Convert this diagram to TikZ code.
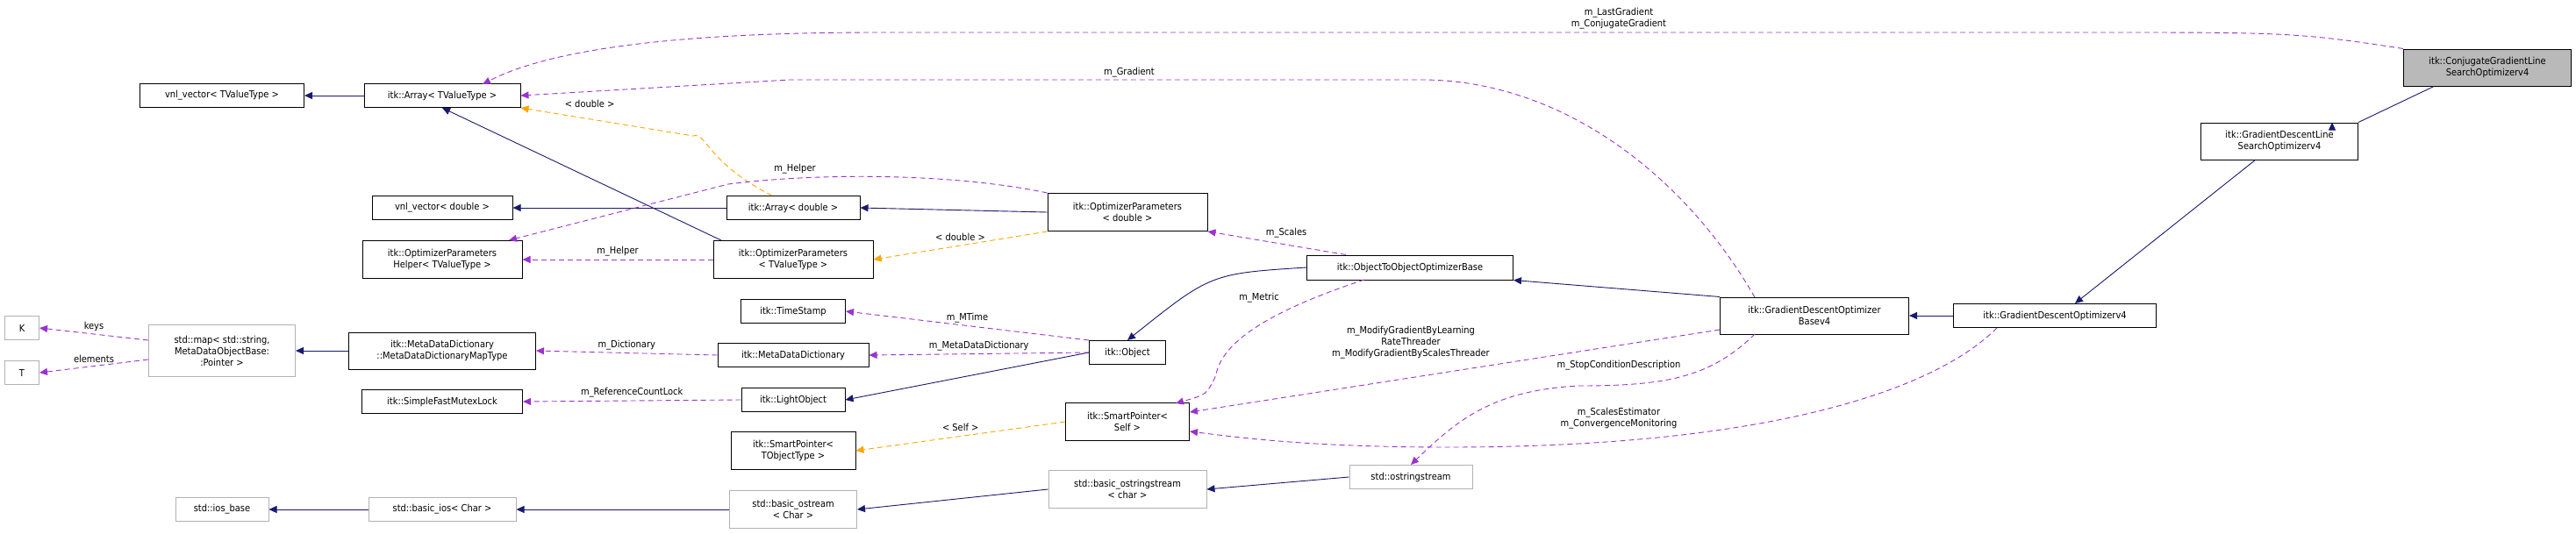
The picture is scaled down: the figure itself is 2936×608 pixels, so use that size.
\documentclass[tikz,border=0pt]{standalone}
\usepackage{fontspec}
\setmainfont{DejaVu Sans Condensed}
\usetikzlibrary{arrows.meta}
\definecolor{inh}{HTML}{191970}
\definecolor{tpl}{HTML}{FFA500}
\definecolor{use}{HTML}{9A32CD}
\tikzset{
  cls/.style={draw=black, fill=white, line width=1pt, inner sep=0pt, align=center,
    font=\fontsize{11}{13}\selectfont},
  ext/.style={cls, draw=gray!60},
  lbl/.style={font=\fontsize{11}{13}\selectfont, align=center, inner sep=1pt},
  isa/.style={draw=inh, line width=0.9pt, -{Triangle[length=9pt,width=8pt]}},
  tmpl/.style={draw=tpl, line width=0.9pt, dashed, dash pattern=on 6pt off 4pt, -{Triangle[length=9pt,width=8pt]}},
  usage/.style={draw=use, line width=0.9pt, dash pattern=on 6pt off 4pt, -{Triangle[length=9pt,width=8pt]}},
}
\newcommand{\cbox}[6][cls]{\node[#1, minimum width=#4, minimum height=#5] (#2) at #3 {#6};}
\begin{document}
\begin{tikzpicture}[x=1pt,y=-1pt]
\useasboundingbox (0,0) rectangle (2936,608);

% classes
\cbox{cg}{(2835,77)}{191pt}{42pt}{itk::ConjugateGradientLine\\SearchOptimizerv4}
\node[cls, fill=gray!55, minimum width=191pt, minimum height=42pt] at (cg) {itk::ConjugateGradientLine\\SearchOptimizerv4};
\cbox{gdls}{(2598,161)}{179pt}{42pt}{itk::GradientDescentLine\\SearchOptimizerv4}
\cbox{gd}{(2342,360)}{231pt}{27pt}{itk::GradientDescentOptimizerv4}
\cbox{gdb}{(2068,360)}{215pt}{42pt}{itk::GradientDescentOptimizer\\Basev4}
\cbox{oto}{(1607,305)}{235pt}{28pt}{itk::ObjectToObjectOptimizerBase}
\cbox{opd}{(1285,242)}{182pt}{43pt}{itk::OptimizerParameters\\< double >}
\cbox{obj}{(1285,402)}{87pt}{27pt}{itk::Object}
\cbox{sps}{(1285,481)}{141pt}{43pt}{itk::SmartPointer<\\Self >}
\cbox[ext]{oss}{(1608,544)}{140pt}{27pt}{std::ostringstream}
\cbox[ext]{boss}{(1285,558)}{180pt}{43pt}{std::basic\_ostringstream\\< char >}
\cbox{vnlt}{(253,109)}{187pt}{27pt}{vnl\_vector< TValueType >}
\cbox{arrt}{(504,109)}{178pt}{27pt}{itk::Array< TValueType >}
\cbox{vnld}{(504,237)}{160pt}{27pt}{vnl\_vector< double >}
\cbox{arrd}{(904,237)}{152pt}{27pt}{itk::Array< double >}
\cbox{oph}{(504,296)}{182pt}{43pt}{itk::OptimizerParameters\\Helper< TValueType >}
\cbox{opt}{(904,296)}{182pt}{43pt}{itk::OptimizerParameters\\< TValueType >}
\cbox{ts}{(904,355)}{119pt}{27pt}{itk::TimeStamp}
\cbox[ext]{K}{(25,374)}{39pt}{27pt}{K}
\cbox[ext]{T}{(25,425)}{39pt}{27pt}{T}
\cbox[ext]{map}{(253,400)}{167pt}{59pt}{std::map< std::string,\\MetaDataObjectBase:\\:Pointer >}
\cbox{mdt}{(504,400)}{213pt}{42pt}{itk::MetaDataDictionary\\::MetaDataDictionaryMapType}
\cbox{mdd}{(904,405)}{172pt}{27pt}{itk::MetaDataDictionary}
\cbox{mutex}{(504,458)}{183pt}{27pt}{itk::SimpleFastMutexLock}
\cbox{lo}{(904,456)}{118pt}{27pt}{itk::LightObject}
\cbox{spt}{(904,514)}{142pt}{43pt}{itk::SmartPointer<\\TObjectType >}
\cbox[ext]{iob}{(253,581)}{106pt}{27pt}{std::ios\_base}
\cbox[ext]{bios}{(504,581)}{168pt}{27pt}{std::basic\_ios< Char >}
\cbox[ext]{bos}{(904,581)}{145pt}{43pt}{std::basic\_ostream\\< Char >}

% inheritance
\draw[isa] (cg.south west)++(35pt,0) -- (gdls.north east)++(-30pt,0);
\draw[isa] (2571,182) -- (2365,346);
\draw[isa] (gd) -- (gdb);
\draw[isa] (gdb.north west) -- (oto.south east);
\draw[isa] (oto.west) .. controls (1380,312) .. (obj.north);
\draw[isa] (obj.west) -- (lo.east);
\draw[isa] (arrt) -- (vnlt);
\draw[isa] (opt.165) -- (arrt.south);
\draw[isa] (arrd) -- (vnld);
\draw[isa] (opd.west) -- (arrd.east);
\draw[isa] (mdt) -- (map);
\draw[isa] (bios) -- (iob);
\draw[isa] (bos) -- (bios);
\draw[isa] (boss.west) -- (bos.east);
\draw[isa] (oss.west) -- (boss.east);

% templates
\draw[tmpl] (arrd.150) .. controls (805,185) and (805,150) .. (790,155) -- (arrt.south east) node[lbl, pos=0.6, above=12pt] {< double >};
\draw[tmpl] (opd.south west) -- (opt.east) node[lbl, midway, above=4pt] {< double >};
\draw[tmpl] (sps.west) -- (spt.east) node[lbl, midway, above=4pt] {< Self >};

% usage
\draw[usage] (cg.north west) .. controls (2620,37) and (2600,37) .. (2400,37) -- (1000,37) .. controls (750,37) and (620,60) .. (550,96);
\node[lbl] (lgl) at (1845,21) {m\_LastGradient\\m\_ConjugateGradient};
\draw[usage] (2000,339) .. controls (1920,200) and (1780,91) .. (1620,91) -- (900,91) -- (arrt.east);
\node[lbl] (gl) at (1287,83) {m\_Gradient};
\draw[usage] (opd.north west) .. controls (1100,200) and (950,195) .. (830,210) -- (580,274);
\node[lbl] (hl1) at (906,193) {m\_Helper};
\draw[usage] (opt.west) -- (oph.east) node[lbl, midway, above=2pt] {m\_Helper};
\draw[usage] (oto.north west)++(45pt,0) -- (opd.south east) node[lbl, pos=0.6, above right=2pt] {m\_Scales};
\draw[usage] (1555,319) .. controls (1400,370) and (1390,410) .. (1385,430) .. controls (1375,450) .. (1340,460);
\node[lbl] (ml) at (1435,340) {m\_Metric};
\draw[usage] (obj.north west) -- (ts.east) node[lbl, midway, above=2pt] {m\_MTime};
\draw[usage] (obj.west) -- (mdd.east) node[lbl, midway, above=2pt] {m\_MetaDataDictionary};
\draw[usage] (mdd.west) -- (mdt.east) node[lbl, midway, above=2pt] {m\_Dictionary};
\draw[usage] (lo.west) -- (mutex.east) node[lbl, midway, above=2pt] {m\_ReferenceCountLock};
\draw[usage] (map.west |- 0,388) -- (K.east) node[lbl, midway, above=2pt] {keys};
\draw[usage] (map.west |- 0,410) -- (T.east) node[lbl, midway, above=2pt] {elements};
\draw[usage] (gdb.west |- 0,376) -- (sps.east |- 0,470);
\node[lbl] (mgl) at (1608,391) {m\_ModifyGradientByLearning\\RateThreader\\m\_ModifyGradientByScalesThreader};
\draw[usage] (2000,381) .. controls (1950,430) and (1900,440) .. (1800,440) .. controls (1700,445) and (1660,480) .. (oss.north);
\node[lbl] (scl) at (1845,417) {m\_StopConditionDescription};
\draw[usage] (gd.south west)++(50pt,0) .. controls (2200,450) and (2000,510) .. (1650,510) .. controls (1500,510) and (1420,500) .. (sps.east |- 0,492);
\node[lbl] (sel) at (1845,477) {m\_ScalesEstimator\\m\_ConvergenceMonitoring};
\end{tikzpicture}
\end{document}
